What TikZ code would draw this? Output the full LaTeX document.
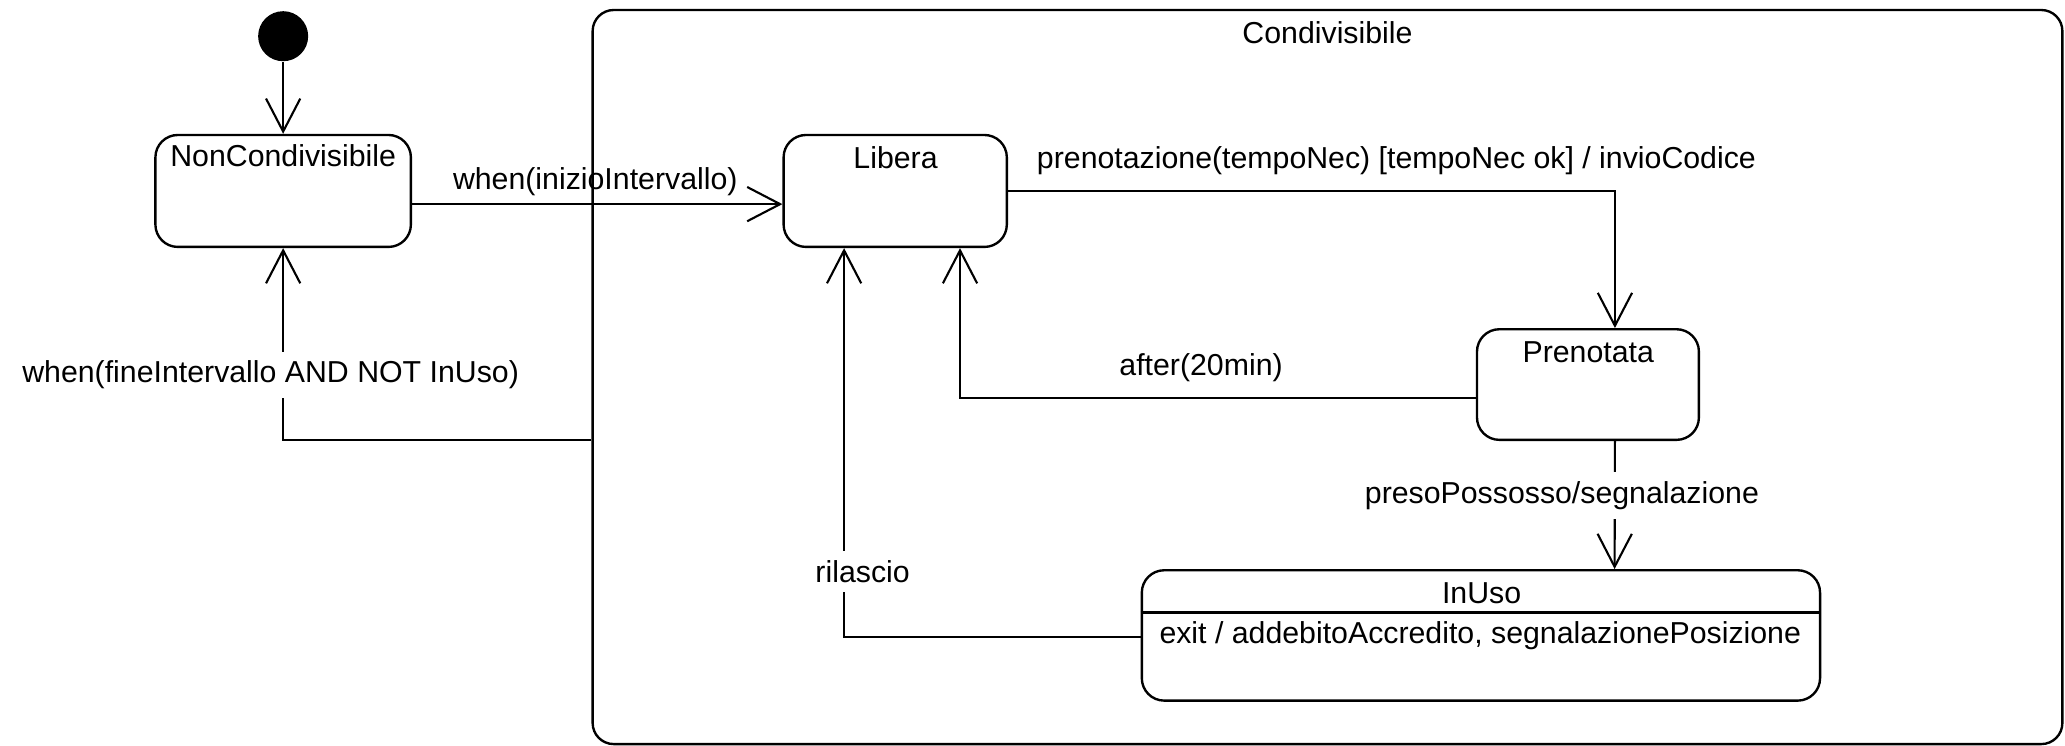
\documentclass[tikz,border=0pt]{standalone}
\usepackage{fontspec}
\setmainfont{Liberation Sans}
\usetikzlibrary{arrows.meta}
\tikzset{
  st/.style={draw, line width=0.9pt, rounded corners=8.5pt, inner sep=0pt},
  txt/.style={inner sep=0pt, anchor=base},
  cut/.style={inner xsep=1.5pt, inner ysep=3.5pt, anchor=base, fill=white},
  tr/.style={line width=0.8pt, -{Straight Barb[length=12.5pt,width=13pt,line width=0.8pt]}},
}
\begin{document}
\begin{tikzpicture}[x=0.5pt,y=-0.5pt,font=\fontsize{11.5}{14}\selectfont]
\useasboundingbox (0,0) rectangle (1568,566);

% composite state
\node[st, rounded corners=8pt, minimum width=558pt, minimum height=278.7pt] (big) at (1008,286.3) {};
\node[txt] (bigt) at (1008,33) {Condivisibile};

% initial state
\node[circle, fill=black, inner sep=0pt, minimum size=19pt] (init) at (215,27.5) {};

% states
\node[st, minimum width=97pt, minimum height=42.5pt] (nc) at (215,145) {};
\node[txt] (nct) at (215,126.5) {NonCondivisibile};

\node[st, minimum width=84.75pt, minimum height=42.5pt] (lib) at (679.75,145) {};
\node[txt] (libt) at (680,127.6) {Libera};

\node[st, minimum width=84.25pt, minimum height=42pt] (pren) at (1205.75,292) {};
\node[txt] (prent) at (1206,275) {Prenotata};

\node[st, minimum width=257.5pt, minimum height=49.5pt] (inuso) at (1124.5,482.5) {};
\node[txt] (inusot) at (1125,458) {InUso};
\draw[line width=0.9pt] ([yshift=8.75pt]inuso.west) -- ([yshift=8.75pt]inuso.east);
\node[txt] (exitt) at (1124,488.5) {exit / addebitoAccredito, segnalazionePosizione};

% transitions
\draw[tr] (init) -- (nc);

\draw[tr] ([yshift=-5pt]nc.east) -- ([yshift=-5pt]lib.west);
\node[txt] (l1) at (452,144) {when(inizioIntervallo)};

\draw[tr] (lib.east) -| ([xshift=10.25pt]pren.north);
\node[txt, anchor=base west] (l2) at (787,128) {prenotazione(tempoNec) [tempoNec ok] / invioCodice};

\draw[tr] ([yshift=-5pt]pren.west) -| ([xshift=24.6pt]lib.south);
\node[txt] (l3) at (912,285) {after(20min)};

\draw[tr] ([xshift=10.25pt]pren.south) -- ([xshift=50.75pt]inuso.north);
\node[cut] (l4) at (1186,382) {presoPossosso/segnalazione};

\draw[tr] ([yshift=-0.75pt]inuso.west) -| ([xshift=-19.4pt]lib.south);
\node[cut] (l5) at (655,442) {rilascio};

\draw[tr] ([yshift=-23.85pt]big.west) -| (nc.south);
\node[cut] (l6) at (205.5,290.6) {when(fineIntervallo AND NOT InUso)};
\end{tikzpicture}
\end{document}
